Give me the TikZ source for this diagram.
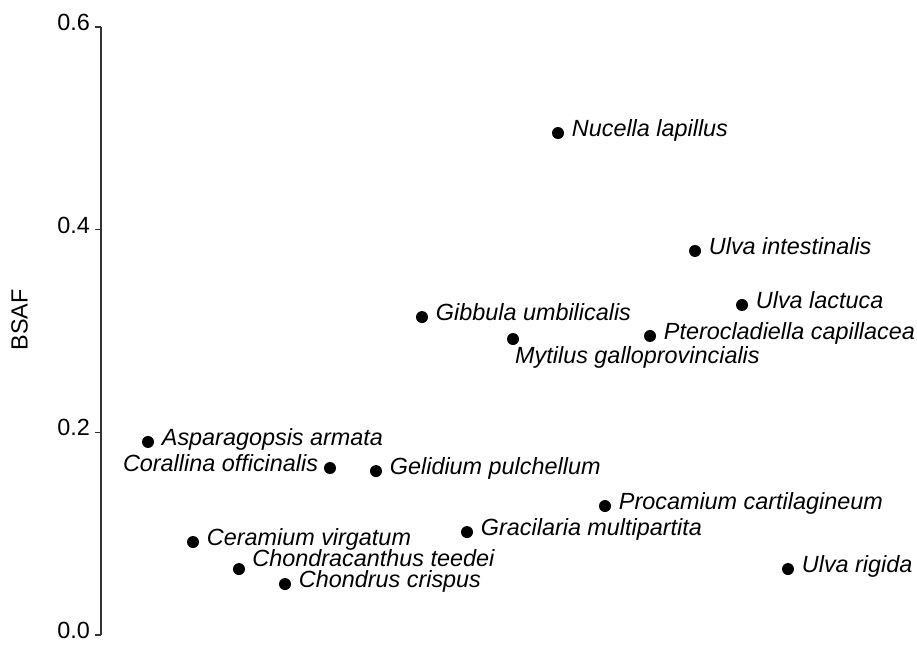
\documentclass[tikz,border=0pt]{standalone}
\usepackage{fontspec}
\setmainfont{Liberation Sans}
\usetikzlibrary{positioning}
\tikzset{
    %Define style for data points
    dot/.style={
           circle,
           fill=black,
           inner sep=0pt,
           minimum size=12pt},
    %Define style for species labels
    species/.style={
           font=\fontsize{23.4}{28}\selectfont\itshape,
           inner sep=0pt,
           text height=0.72em,
           text depth=0pt},
    %Define style for axis text
    axistext/.style={
           font=\fontsize{23.4}{28}\selectfont,
           inner sep=0pt,
           text height=0.72em,
           text depth=0pt},
    % Define axis style
    axisline/.style={
           line width=1.4pt,
           draw=black!80}
}

\begin{document}
\begin{tikzpicture}[x=1pt, y=1013.3pt]
  \useasboundingbox (-101,-0.00888) rectangle (816,0.6267);
 %axis
  \coordinate (ybot) at (0,0);
  \coordinate (ytop) at (0,0.6);
  \draw[axisline] (ybot) -- (ytop);
  \foreach \v/\t [count=\i] in {0/0.0, 0.2/0.2, 0.4/0.4, 0.6/0.6} {
    \coordinate (tickin\i) at (0,\v);
    \coordinate (tickout\i) at (-6,\v);
    \draw[axisline] (tickin\i) -- (tickout\i);
    \node[axistext, left=5pt of tickout\i] (ticklab\i) {\t};
  }
  \node[axistext, rotate=90] (ylab) at (-77,0.311) {BSAF};
 %points
  \foreach \name/\x/\y in {nucella/457/0.4954, ulvaint/594/0.379, ulvalac/641/0.3257,
      gibbula/321/0.3138, mytilus/412/0.2921, ptero/549/0.2951,
      asparagopsis/47/0.1905, corallina/229/0.1648, gelidium/275/0.1618,
      gracilaria/366/0.1016, procamium/504/0.1273, ceramium/92/0.0918,
      chondracanthus/138/0.0651, chondrus/184/0.0503, ulvarig/687/0.0651}
    \node[dot] (\name) at (\x,\y) {};
 %labels
  \foreach \name/\txt in {nucella/Nucella lapillus, ulvaint/Ulva intestinalis,
      ulvalac/Ulva lactuca, gibbula/Gibbula umbilicalis,
      ptero/Pterocladiella capillacea, asparagopsis/Asparagopsis armata,
      gelidium/Gelidium pulchellum, gracilaria/Gracilaria multipartita,
      procamium/Procamium cartilagineum, ceramium/Ceramium virgatum,
      chondrus/Chondrus crispus, ulvarig/Ulva rigida}
    \node[species, right=7.5pt of \name] (\name-lab) {\txt};
  \node[species, left=5.5pt of corallina] (corallina-lab) {Corallina officinalis};
  \node[species, anchor=west] (mytilus-lab) at ([xshift=2pt, yshift=-21pt]mytilus.center) {Mytilus galloprovincialis};
  \node[species, right=7pt of chondracanthus, yshift=6pt] (chondracanthus-lab) {Chondracanthus teedei};
\end{tikzpicture}
\end{document}
